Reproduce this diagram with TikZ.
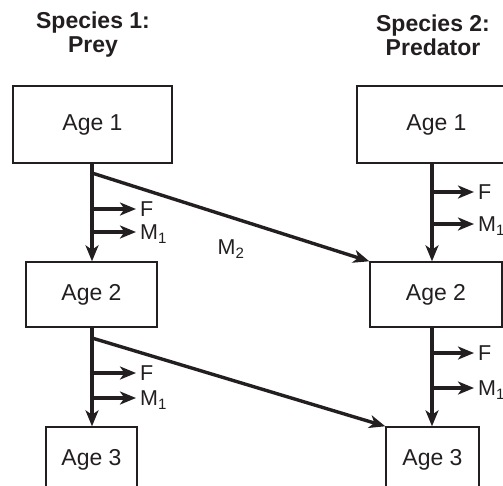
\documentclass[tikz,border=0pt]{standalone}
\usepackage{fontspec}
\setmainfont{Liberation Sans}
\usetikzlibrary{arrows.meta}
\definecolor{ink}{HTML}{231F20}
\begin{document}
\begin{tikzpicture}[x=1pt,y=-1pt,
  box/.style={draw=ink, line width=1.4pt, inner sep=0pt, text=ink,
    font=\fontsize{23}{27}\selectfont},
  title/.style={align=center, text=ink, font=\fontsize{23}{24}\selectfont\bfseries},
  flow/.style={draw=ink, line width=3.4pt, -{Stealth[length=16pt,width=13pt,inset=4.5pt]}},
  lab/.style={text=ink, inner sep=0pt, font=\fontsize{21.5}{24}\selectfont},
]
\clip (0,0) rectangle (503,485);
\useasboundingbox (0,0) rectangle (503,485);
% titles
\node[title] (t1) at (93,35) {Species 1:\\Prey};
\node[title] (t2) at (433,35) {Species 2:\\Predator};
% boxes
\node[box, minimum width=159pt, minimum height=77pt] (la1) at (92.5,124.5) {Age 1};
\node[box, minimum width=131pt, minimum height=65pt] (la2) at (91.5,294.5) {Age 2};
\node[box, minimum width=91pt, minimum height=66pt] (la3) at (91.5,460) {Age 3};
\node[box, minimum width=159pt, minimum height=77pt] (ra1) at (436.5,124.5) {Age 1};
\node[box, minimum width=132pt, minimum height=65pt] (ra2) at (436,294.5) {Age 2};
\node[box, minimum width=93pt, minimum height=66pt] (ra3) at (432.5,460) {Age 3};
% column axes
\coordinate (lx) at (92,0);
\coordinate (rx) at (432,0);
% vertical transitions
\draw[flow] (la1.south -| lx) -- (la2.north -| lx);
\draw[flow] (la2.south -| lx) -- (la3.north -| lx);
\draw[flow] (ra1.south -| rx) -- (ra2.north -| rx);
\draw[flow] (ra2.south -| rx) -- (ra3.north -| rx);
% branch points and labels (left)
\coordinate (lf1) at (92,209);
\coordinate (lm1) at (92,232);
\coordinate (lf2) at (92,373);
\coordinate (lm2) at (92,398);
\node[lab, anchor=west] (lF1) at (140,209) {F};
\node[lab, anchor=west] (lM1) at (140,234) {M\textsubscript{1}};
\node[lab, anchor=west] (lF2) at (140,373) {F};
\node[lab, anchor=west] (lM2) at (140,400) {M\textsubscript{1}};
\draw[flow, shorten >=4pt] (lf1) -- (lf1 -| lF1.west);
\draw[flow, shorten >=4pt] (lm1) -- (lm1 -| lM1.west);
\draw[flow, shorten >=4pt] (lf2) -- (lf2 -| lF2.west);
\draw[flow, shorten >=4pt] (lm2) -- (lm2 -| lM2.west);
% branch points and labels (right)
\coordinate (rf1) at (432,192);
\coordinate (rm1) at (432,224);
\coordinate (rf2) at (432,353);
\coordinate (rm2) at (432,388);
\node[lab, anchor=west] (rF1) at (478,192) {F};
\node[lab, anchor=west] (rM1) at (478,226) {M\textsubscript{1}};
\node[lab, anchor=west] (rF2) at (478,353) {F};
\node[lab, anchor=west] (rM2) at (478,390) {M\textsubscript{1}};
\draw[flow, shorten >=4pt] (rf1) -- (rf1 -| rF1.west);
\draw[flow, shorten >=4pt] (rm1) -- (rm1 -| rM1.west);
\draw[flow, shorten >=4pt] (rf2) -- (rf2 -| rF2.west);
\draw[flow, shorten >=4pt] (rm2) -- (rm2 -| rM2.west);
% predation transitions
\coordinate (d1) at (92,173);
\coordinate (d2) at (92,338);
\draw[flow] (d1) -- (ra2.north west);
\draw[flow] (d2) -- (ra3.north west);
\node[lab] (m2) at (231,249) {M\textsubscript{2}};
\end{tikzpicture}
\end{document}
